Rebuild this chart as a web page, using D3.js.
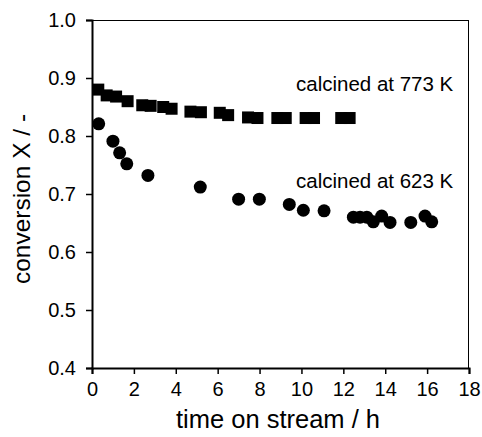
<!DOCTYPE html>
<html>
<head>
<meta charset="utf-8">
<script src="https://cdn.jsdelivr.net/npm/d3@7"></script>
<style>
  body { margin: 0; background: #fff; }
  text { font-family: "Liberation Sans", Arial, sans-serif; fill: #000; }
</style>
</head>
<body>
<div id="chart"></div>
<script>
// calcined at 773 K (squares)
var t773 = [0.3, 0.7, 1.15, 1.7, 2.4, 2.8, 3.4, 3.8, 4.7, 5.2, 6.1, 6.5, 7.45, 7.9, 8.85, 9.25, 10.2, 10.6, 11.9, 12.3];
var x773 = [0.88, 0.87, 0.868, 0.86, 0.853, 0.852, 0.85, 0.847, 0.842, 0.841, 0.84, 0.836, 0.832, 0.831, 0.831, 0.831, 0.831, 0.831, 0.831, 0.831];
// calcined at 623 K (circles)
var t623 = [0.32, 1.0, 1.32, 1.66, 2.67, 5.17, 7.0, 7.99, 9.42, 10.09, 11.08, 12.48, 12.8, 13.12, 13.43, 13.83, 14.23, 15.22, 15.9, 16.22];
var x623 = [0.821, 0.791, 0.771, 0.752, 0.732, 0.712, 0.691, 0.691, 0.682, 0.672, 0.671, 0.66, 0.66, 0.66, 0.652, 0.662, 0.651, 0.651, 0.662, 0.652];

var xTicks = [0, 2, 4, 6, 8, 10, 12, 14, 16, 18];
var yTicks = [0.4, 0.5, 0.6, 0.7, 0.8, 0.9, 1.0];
var labels = [
  { text: "calcined at 773 K", t: 17.25, v: 0.877 },
  { text: "calcined at 623 K", t: 17.25, v: 0.711 }
];

var width = 482, height = 437;
var margin = { top: 20, right: 13, bottom: 69, left: 92 };
var w = width - margin.left - margin.right;
var h = height - margin.top - margin.bottom;

var svg = d3.select("#chart").append("svg")
  .attr("width", width)
  .attr("height", height);
var g = svg.append("g")
  .attr("transform", "translate(" + margin.left + "," + margin.top + ")");

var x = d3.scaleLinear().domain([0, 18]).range([0, w]);
var y = d3.scaleLinear().domain([0.4, 1.0]).range([h, 0]);

// thin frame on top and right
g.append("line").attr("x1", 0).attr("x2", w).attr("y1", 0.5).attr("y2", 0.5)
  .attr("stroke", "#000").attr("stroke-width", 1);
g.append("line").attr("x1", w - 0.5).attr("x2", w - 0.5).attr("y1", 0).attr("y2", h)
  .attr("stroke", "#000").attr("stroke-width", 1);

var xAxis = g.append("g")
  .attr("transform", "translate(0," + h + ")")
  .call(d3.axisBottom(x).tickValues(xTicks).tickFormat(d3.format("d")).tickSize(6).tickPadding(8));
var yAxis = g.append("g")
  .call(d3.axisLeft(y).tickValues(yTicks).tickFormat(d3.format(".1f")).tickSize(6).tickPadding(10));

[xAxis, yAxis].forEach(function (a) {
  a.select(".domain").attr("stroke-width", 2);
  a.selectAll(".tick line").attr("stroke-width", 1.5);
  a.selectAll("text").style("font-size", "20px").attr("fill", "#000");
});

// squares
var sq = 12;
g.selectAll(".sq")
  .data(t773.map(function (d, i) { return { t: d, v: x773[i] }; }))
  .enter().append("rect")
  .attr("class", "sq")
  .attr("x", function (d) { return x(d.t) - sq / 2; })
  .attr("y", function (d) { return y(d.v) - sq / 2; })
  .attr("width", sq)
  .attr("height", sq)
  .attr("fill", "#000");

// circles
g.selectAll(".dot")
  .data(t623.map(function (d, i) { return { t: d, v: x623[i] }; }))
  .enter().append("circle")
  .attr("class", "dot")
  .attr("cx", function (d) { return x(d.t); })
  .attr("cy", function (d) { return y(d.v); })
  .attr("r", 6.5)
  .attr("fill", "#000");

g.selectAll(".lab")
  .data(labels)
  .enter().append("text")
  .attr("x", function (d) { return x(d.t); })
  .attr("y", function (d) { return y(d.v); })
  .attr("text-anchor", "end")
  .style("font-size", "20.5px")
  .text(function (d) { return d.text; });

svg.append("text")
  .attr("x", 278)
  .attr("y", 428)
  .attr("text-anchor", "middle")
  .style("font-size", "25.5px")
  .text("time on stream / h");

svg.append("text")
  .attr("transform", "translate(30,199) rotate(-90)")
  .attr("text-anchor", "middle")
  .style("font-size", "24.5px")
  .text("conversion X / -");
</script>
</body>
</html>
